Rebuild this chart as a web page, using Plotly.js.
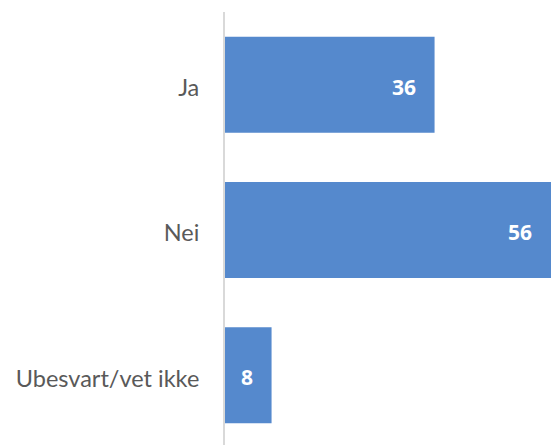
<!DOCTYPE html>
<html>
<head>
<meta charset="utf-8">
<script src="https://cdn.plot.ly/plotly-3.0.1.min.js"></script>
<style>
html,body{margin:0;padding:0;overflow:hidden;background:#fff;}
#chart{width:551px;height:448px;}
</style>
</head>
<body>
<div id="chart"></div>
<script>
const categories = ["Ja", "Nei", "Ubesvart/vet ikke"];
const values = [36, 56, 8];
const labels = ["36", "56", "8"];

const trace = {
  type: "bar",
  orientation: "h",
  x: values,
  y: categories,
  marker: {color: "#5589CD"},
  hoverinfo: "none"
};

const annotations = values.map((v, i) => ({
  x: v, y: categories[i], xref: "x", yref: "y",
  text: "<b>" + labels[i] + "</b>",
  showarrow: false, xanchor: "right", xshift: -17, yshift: -2,
  font: {family: "Open Sans, sans-serif", size: 21, color: "#ffffff"}
}));

const layout = {
  width: 551, height: 448,
  margin: {l: 225, r: 0, t: 12, b: 0},
  paper_bgcolor: "#ffffff",
  plot_bgcolor: "#ffffff",
  bargap: 0.34,
  showlegend: false,
  xaxis: {range: [0, 56], visible: false, fixedrange: true},
  yaxis: {
    autorange: "reversed",
    showline: true, linecolor: "#d9d9d9", linewidth: 2,
    showgrid: false, zeroline: false, ticks: "",
    ticklabelstandoff: 19,
    ticklabelshift: -3,
    tickfont: {family: "Lato, sans-serif", size: 23.5, color: "#595959"}
  },
  annotations: annotations
};

Plotly.newPlot("chart", [trace], layout, {displayModeBar: false, staticPlot: true});
</script>
</body>
</html>
